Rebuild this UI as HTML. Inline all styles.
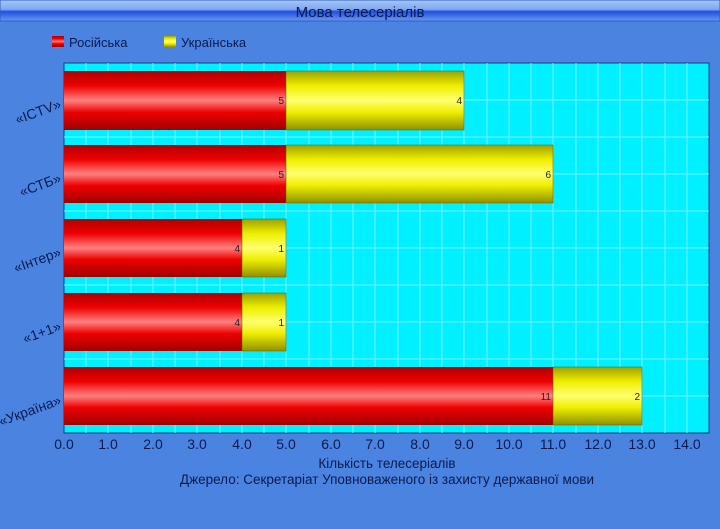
<!DOCTYPE html><html><head><meta charset="utf-8"><style>body{margin:0}svg{display:block;font-family:"Liberation Sans",sans-serif}</style></head><body>
<svg width="720" height="529" xmlns="http://www.w3.org/2000/svg">
<defs>
<linearGradient id="r" x1="0" y1="0" x2="0" y2="1"><stop offset="0" stop-color="#b00000"/><stop offset=".25" stop-color="#ee0000"/><stop offset=".5" stop-color="#ff8080"/><stop offset=".7" stop-color="#ee0000"/><stop offset="1" stop-color="#a00000"/></linearGradient>
<linearGradient id="y" x1="0" y1="0" x2="0" y2="1"><stop offset="0" stop-color="#a0a000"/><stop offset=".25" stop-color="#eeee00"/><stop offset=".5" stop-color="#ffff70"/><stop offset=".7" stop-color="#eeee00"/><stop offset="1" stop-color="#909000"/></linearGradient>
<linearGradient id="t" x1="0" y1="0" x2="0" y2="1"><stop offset="0" stop-color="#a8c4f8"/><stop offset=".45" stop-color="#7fa8f0"/><stop offset=".55" stop-color="#1e50e0"/><stop offset="1" stop-color="#6a98f0"/></linearGradient>
</defs>
<rect width="720" height="529" fill="#4a84e0"/>
<rect x="0" y="0" width="720" height="21" fill="url(#t)" stroke="#3060c0"/>
<text x="360" y="17" font-size="15" text-anchor="middle" fill="#0a1a50">Мова телесеріалів</text>
<rect x="52" y="36" width="12" height="11" fill="url(#r)"/><text x="69" y="47" font-size="13" fill="#0a1a50">Російська</text>
<rect x="164" y="36" width="12" height="11" fill="url(#y)"/><text x="181" y="47" font-size="13" fill="#0a1a50">Українська</text>
<rect x="64" y="63" width="645" height="370" fill="#00f0ff" stroke="#1a3a80"/>
<g stroke="#70f4ff" stroke-width="1">
<path d="M86 63V433M108 63V433M131 63V433M153 63V433M175 63V433M197 63V433M220 63V433M242 63V433M264 63V433M286 63V433M309 63V433M331 63V433M353 63V433M375 63V433M398 63V433M420 63V433M442 63V433M464 63V433M487 63V433M509 63V433M531 63V433M553 63V433M576 63V433M598 63V433M620 63V433M642 63V433M665 63V433M687 63V433"/>
<path d="M64 100H709M64 137H709M64 174H709M64 211H709M64 248H709M64 285H709M64 322H709M64 359H709M64 396H709"/>
</g>
<g stroke="#606000" stroke-width=".5">
<rect x="64" y="71" width="222" height="59" fill="url(#r)" stroke="none"/><rect x="286" y="71" width="178" height="59" fill="url(#y)"/>
<rect x="64" y="145" width="222" height="58" fill="url(#r)" stroke="none"/><rect x="286" y="145" width="267" height="58" fill="url(#y)"/>
<rect x="64" y="219" width="178" height="58" fill="url(#r)" stroke="none"/><rect x="242" y="219" width="44" height="58" fill="url(#y)"/>
<rect x="64" y="293" width="178" height="58" fill="url(#r)" stroke="none"/><rect x="242" y="293" width="44" height="58" fill="url(#y)"/>
<rect x="64" y="367" width="489" height="58" fill="url(#r)" stroke="none"/><rect x="553" y="367" width="89" height="58" fill="url(#y)"/>
</g>
<g font-size="10" text-anchor="end" fill="#222">
<text x="284" y="104">5</text><text x="462" y="104">4</text>
<text x="284" y="178">5</text><text x="551" y="178">6</text>
<text x="240" y="252">4</text><text x="284" y="252">1</text>
<text x="240" y="326">4</text><text x="284" y="326">1</text>
<text x="551" y="400">11</text><text x="640" y="400">2</text>
</g>
<g font-size="14" fill="#0a1a50" text-anchor="end">
<text transform="translate(62,108) rotate(-20)">«ICTV»</text>
<text transform="translate(62,182) rotate(-20)">«СТБ»</text>
<text transform="translate(62,256) rotate(-20)">«Інтер»</text>
<text transform="translate(62,330) rotate(-20)">«1+1»</text>
<text transform="translate(62,404) rotate(-20)">«Україна»</text>
</g>
<g font-size="14" fill="#0a1a50" text-anchor="middle">
<text x="64" y="449">0.0</text><text x="108" y="449">1.0</text><text x="153" y="449">2.0</text><text x="197" y="449">3.0</text><text x="242" y="449">4.0</text><text x="286" y="449">5.0</text><text x="331" y="449">6.0</text><text x="375" y="449">7.0</text><text x="420" y="449">8.0</text><text x="464" y="449">9.0</text><text x="509" y="449">10.0</text><text x="553" y="449">11.0</text><text x="598" y="449">12.0</text><text x="642" y="449">13.0</text><text x="687" y="449">14.0</text>
</g>
<g font-size="13.5" fill="#0a1a50" text-anchor="middle">
<text x="387" y="468">Кількість телесеріалів</text>
<text x="387" y="484">Джерело: Секретаріат Уповноваженого із захисту державної мови</text>
</g>
</svg></body></html>
